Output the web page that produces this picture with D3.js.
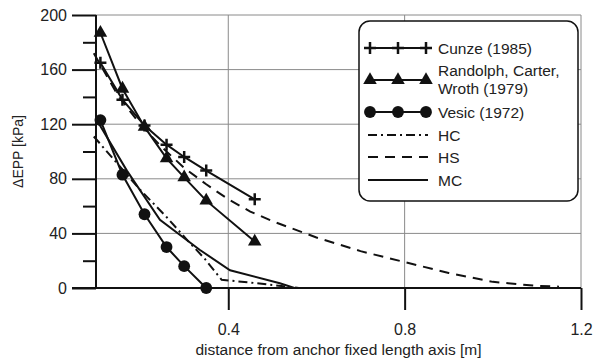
<!DOCTYPE html>
<html>
<head>
<meta charset="utf-8">
<script src="https://cdn.jsdelivr.net/npm/d3@7"></script>
<style>
  body { margin: 0; background: #fff; }
  text { font-family: "Liberation Sans", Arial, sans-serif; fill: #222; }
</style>
</head>
<body>
<div id="chart"></div>
<script>
/* Data. */
const cunzeX = [0.11, 0.16, 0.21, 0.26, 0.30, 0.35, 0.46]
const cunzeY = [165, 138, 119, 105, 96, 86, 65]

const randolphX = [0.11, 0.16, 0.21, 0.26, 0.30, 0.35, 0.46]
const randolphY = [187, 146, 118, 95, 81, 64, 34]

const vesicX = [0.11, 0.16, 0.21, 0.26, 0.30, 0.35]
const vesicY = [123, 83, 54, 30, 16, 0]

const hcX = [0.095, 0.2, 0.26, 0.31, 0.345, 0.385, 0.45, 0.52, 0.56, 1.2]
const hcY = [111, 72, 52, 34, 22, 6, 4, 1.5, 0, 0]

const hsX = [0.095, 0.15, 0.2, 0.25, 0.3, 0.35, 0.4, 0.45, 0.5, 0.6, 0.7, 0.8, 0.9, 1.0, 1.1, 1.15]
const hsY = [172, 141, 120, 103, 88, 76, 65, 56, 49, 37, 27, 19, 11, 4.5, 1.5, 1]

const mcX = [0.1, 0.17, 0.245, 0.335, 0.404, 0.517, 0.55, 1.2]
const mcY = [124, 86, 50, 28, 13, 3.5, 0, 0]

const xTicks = [0.4, 0.8, 1.2]
const yTicks = [0, 40, 80, 120, 160, 200]
const yMinorTicks = [20, 60, 100, 140, 180]

const legendLabels = ["Cunze (1985)", ["Randolph, Carter,", "Wroth (1979)"], "Vesic (1972)", "HC", "HS", "MC"]

/* Svg size. */
const width = 594
const height = 359
const margin = { left: 96, right: 13, top: 15, bottom: 71 }

const svg = d3.select("#chart")
  .append("svg")
  .attr("width", width)
  .attr("height", height)

/* Scales. */
const x = d3.scaleLinear()
  .domain([0.1, 1.2])
  .range([margin.left, width - margin.right])

const y = d3.scaleLinear()
  .domain([0, 200])
  .range([height - margin.bottom, margin.top])

/* Grid. */
const grid = svg.append("g")
grid.selectAll(".gx")
  .data(xTicks)
  .enter()
  .append("line")
  .attr("x1", d => x(d))
  .attr("x2", d => x(d))
  .attr("y1", y(0))
  .attr("y2", y(200))
  .style("stroke", "#8a8a8a")
  .style("stroke-width", 1)
grid.selectAll(".gy")
  .data(yTicks.slice(1))
  .enter()
  .append("line")
  .attr("x1", x(0.1))
  .attr("x2", x(1.2))
  .attr("y1", d => y(d))
  .attr("y2", d => y(d))
  .style("stroke", "#8a8a8a")
  .style("stroke-width", 1)

/* Axes. */
const yAxis = svg.append("g")
  .attr("transform", `translate(${x(0.1)},0)`)
  .call(d3.axisLeft(y).tickValues(yTicks).tickSize(24).tickPadding(5).tickFormat(d3.format("d")))
yAxis.append("g")
  .call(d3.axisLeft(y).tickValues(yMinorTicks).tickSize(13).tickFormat(""))

const xAxis = svg.append("g")
  .attr("transform", `translate(0,${y(0)})`)
  .call(d3.axisBottom(x).tickValues(xTicks).tickSize(22).tickPadding(14).tickFormat(d3.format(".1f")))

svg.selectAll(".domain").style("stroke", "#111").style("stroke-width", 2)
svg.selectAll(".tick line").style("stroke", "#111").style("stroke-width", 2)
yAxis.selectAll(".domain").attr("d", `M0,${y(200)}V${y(0)}`)
yAxis.selectAll("g g .domain").remove()
xAxis.select(".domain").attr("d", `M${x(0.1) - 24},0H${x(1.2)}`)
svg.selectAll(".tick text")
  .style("font-size", "16px")
  .style("font-family", "'Liberation Sans', Arial, sans-serif")
  .attr("fill", "#222")

/* Axis titles. */
svg.append("text")
  .attr("x", (x(0.1) + x(1.2)) / 2)
  .attr("y", 355)
  .attr("text-anchor", "middle")
  .style("font-size", "15.5px")
  .text("distance from anchor fixed length axis [m]")

svg.append("text")
  .attr("transform", `translate(23,${y(100)}) rotate(-90)`)
  .attr("text-anchor", "middle")
  .style("font-size", "14px")
  .text("ΔEPP [kPa]")

/* Lines. */
const line = d3.line().x(d => x(d[0])).y(d => y(d[1]))
const zip = (a, b) => a.map((v, i) => [v, b[i]])

const series = [
  { pts: zip(hcX, hcY), dash: "9,4,2,4" },
  { pts: zip(hsX, hsY), dash: "10,7" },
  { pts: zip(mcX, mcY), dash: null },
  { pts: zip(cunzeX, cunzeY), dash: null, marker: "plus" },
  { pts: zip(randolphX, randolphY), dash: null, marker: "triangle" },
  { pts: zip(vesicX, vesicY), dash: null, marker: "circle" }
]

const plot = svg.append("g")
plot.selectAll("path")
  .data(series)
  .enter()
  .append("path")
  .attr("d", d => line(d.pts))
  .attr("fill", "none")
  .attr("stroke", "#111")
  .attr("stroke-width", 2)
  .attr("stroke-dasharray", d => d.dash)

/* Markers. */
const symbols = {
  triangle: d3.symbol().type(d3.symbolTriangle).size(80),
  circle: d3.symbol().type(d3.symbolCircle).size(110)
}

function drawMarker(g, kind, cx, cy) {
  if (kind === "plus") {
    g.append("path")
      .attr("d", `M${cx - 6},${cy}H${cx + 6}M${cx},${cy - 6}V${cy + 6}`)
      .attr("stroke", "#111")
      .attr("stroke-width", 2.5)
  } else {
    g.append("path")
      .attr("d", symbols[kind]())
      .attr("transform", `translate(${cx},${cy})`)
      .attr("fill", "#111")
  }
}

series.filter(s => s.marker).forEach(s => {
  s.pts.forEach(p => drawMarker(plot, s.marker, x(p[0]), y(p[1])))
})

/* Legend. */
const legend = svg.append("g")
legend.append("rect")
  .attr("x", 359)
  .attr("y", 21)
  .attr("width", 219)
  .attr("height", 180)
  .attr("rx", 11)
  .attr("fill", "#fff")
  .attr("stroke", "#111")
  .attr("stroke-width", 1.5)

const legendRows = [48, 80, 112, 135, 157, 180]
const legendStyles = [
  { dash: null, marker: "plus" },
  { dash: null, marker: "triangle" },
  { dash: null, marker: "circle" },
  { dash: "9,4,2,4" },
  { dash: "10,7" },
  { dash: null }
]

legendStyles.forEach((s, i) => {
  const ly = legendRows[i]
  legend.append("line")
    .attr("x1", 368).attr("x2", 428)
    .attr("y1", ly).attr("y2", ly)
    .attr("stroke", "#111")
    .attr("stroke-width", 2)
    .attr("stroke-dasharray", s.dash)
  if (s.marker) {
    [370, 398, 426].forEach(mx => drawMarker(legend, s.marker, mx, ly))
  }
  const label = legendLabels[i]
  const t = legend.append("text")
    .attr("x", 438)
    .style("font-size", "15.5px")
  if (Array.isArray(label)) {
    label.forEach((l, j) => {
      t.append("tspan").attr("x", 438).attr("y", ly - 4 + j * 18).text(l)
    })
  } else {
    t.attr("y", ly + 5.5).text(label)
  }
})
</script>
</body>
</html>
